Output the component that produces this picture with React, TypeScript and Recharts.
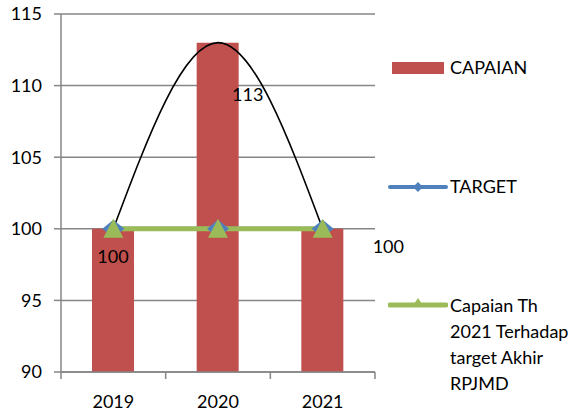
import { ComposedChart, Bar, Line, XAxis, YAxis, CartesianGrid, LabelList } from 'recharts'

const years = ['2019', '2020', '2021']
const capaian = [100, 113, 100]
const target = [100, 100, 100]
const capaianTh2021 = [100, 100, 100]
const yTicks = [90, 95, 100, 105, 110, 115]
const capaianThLines = ['Capaian Th', '2021 Terhadap', 'target Akhir', 'RPJMD']

const data = years.map((year, i) => ({ year, capaian: capaian[i], target: target[i], capaianTh: capaianTh2021[i] }))

const W = 582
const H = 414
const X_AXIS_H = 42
const Y_AXIS_W = 61
const MARGIN = { top: 14, right: 207, bottom: 0, left: 0 }
const BAND = (W - MARGIN.right - Y_AXIS_W) / years.length
const FONT = 'Lato, "Open Sans", sans-serif'
const GRID = '#868686'
const RED = '#C0504D'
const BLUE = '#4F81BD'
const GREEN = '#9BBB59'

// Excel style: ticks between categories, labels in the middle
const XTick = ({ x, y, payload, index }: any) => (
  <g>
    <line x1={x - BAND / 2} x2={x - BAND / 2} y1={y} y2={y + 7} stroke={GRID} strokeWidth={1.5} />
    {index === years.length - 1 && <line x1={x + BAND / 2} x2={x + BAND / 2} y1={y} y2={y + 7} stroke={GRID} strokeWidth={1.5} />}
    <text x={x} y={y + 36} textAnchor="middle" fontSize={18} fill="#000" fontFamily={FONT}>{payload.value}</text>
  </g>
)

const Diamond = ({ cx, cy }: any) => <path d={`M${cx},${cy - 9} L${cx + 11},${cy} L${cx},${cy + 9} L${cx - 11},${cy} Z`} fill={BLUE} />
const Triangle = ({ cx, cy }: any) => <path d={`M${cx},${cy - 10} L${cx + 10},${cy + 9} L${cx - 10},${cy + 9} Z`} fill={GREEN} />

// label offsets from the top centre of each bar, as Excel placed them
const labelOffsets = [[0, 27], [30, 51], [66, 17]]
const BarLabel = ({ x, y, width, value, index }: any) => {
  const [dx, dy] = labelOffsets[index]
  return <text x={x + width / 2 + dx} y={y + dy} textAnchor="middle" dominantBaseline="central" fontSize={18} fill="#000" fontFamily={FONT}>{value}</text>
}

const LegendBox = () => (
  <div style={{ position: 'absolute', left: 388, top: 50, width: 194, height: 360, fontFamily: FONT, fontSize: 18, color: '#000' }}>
    <div style={{ position: 'absolute', left: 4, top: 12, width: 52, height: 12, background: RED }} />
    <div style={{ position: 'absolute', left: 62, top: 17, lineHeight: '0px' }}>CAPAIAN</div>
    <svg style={{ position: 'absolute', left: 0, top: 126 }} width={60} height={20}>
      <line x1={2} x2={58} y1={11} y2={11} stroke={BLUE} strokeWidth={4} strokeLinecap="round" />
      <path d="M30,6 L35,11 L30,16 L25,11 Z" fill={BLUE} />
    </svg>
    <div style={{ position: 'absolute', left: 62, top: 136, lineHeight: '0px' }}>TARGET</div>
    <svg style={{ position: 'absolute', left: 0, top: 244 }} width={60} height={22}>
      <line x1={2} x2={58} y1={11} y2={11} stroke={GREEN} strokeWidth={5} strokeLinecap="round" />
      <path d="M30,4 L36,13 L24,13 Z" fill={GREEN} />
    </svg>
    <div style={{ position: 'absolute', left: 62, top: 242, lineHeight: '26px' }}>
      {capaianThLines.map((l) => <div key={l}>{l}</div>)}
    </div>
  </div>
)

export default function App() {
  return (
    <div style={{ position: 'fixed', left: 0, top: 0, width: W, height: H, background: '#fff' }}>
      <ComposedChart width={W} height={H} data={data} margin={MARGIN}>
        <CartesianGrid vertical={false} stroke={GRID} strokeWidth={1.5} />
        <XAxis dataKey="year" axisLine={{ stroke: GRID, strokeWidth: 1.5 }} tickLine={false} tickSize={0} tickMargin={0} tick={<XTick />} interval={0} height={X_AXIS_H} />
        <YAxis domain={[90, 115]} ticks={yTicks} width={Y_AXIS_W} axisLine={{ stroke: GRID, strokeWidth: 1.5 }} tickLine={{ stroke: GRID, strokeWidth: 1.5 }} tickSize={7} tickMargin={12} tick={{ fontSize: 18, fill: '#000', fontFamily: FONT }} allowDataOverflow />
        <Bar dataKey="capaian" name="CAPAIAN" fill={RED} barSize={42} isAnimationActive={false}>
          <LabelList dataKey="capaian" content={<BarLabel />} />
        </Bar>
        <Line dataKey="target" name="TARGET" stroke={BLUE} strokeWidth={4} dot={<Diamond />} activeDot={false} isAnimationActive={false} />
        <Line dataKey="capaianTh" name="Capaian Th 2021 Terhadap target Akhir RPJMD" stroke={GREEN} strokeWidth={5} dot={<Triangle />} activeDot={false} isAnimationActive={false} />
        <Line dataKey="capaian" type="natural" stroke="#000" strokeWidth={1.6} dot={false} activeDot={false} legendType="none" isAnimationActive={false} />
      </ComposedChart>
      <LegendBox />
    </div>
  )
}
